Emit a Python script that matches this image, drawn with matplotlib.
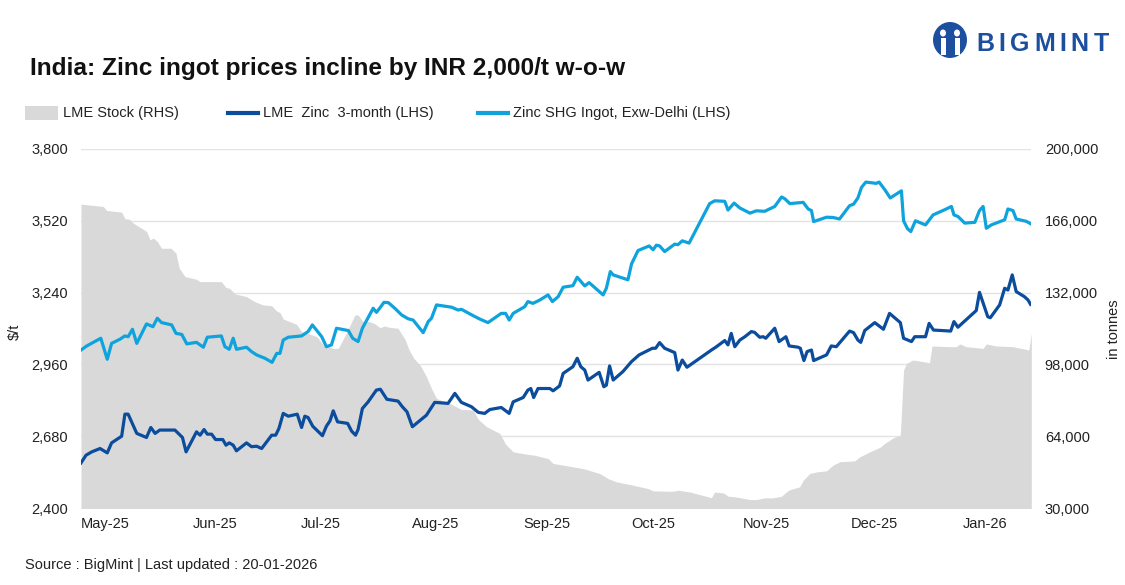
import numpy as np
import pandas as pd
import matplotlib
matplotlib.use("Agg")
import matplotlib.pyplot as plt
from matplotlib.patches import Rectangle, Ellipse
from matplotlib.lines import Line2D

plt.rcParams['font.family'] = ['Liberation Sans', 'DejaVu Sans']

START = "2025-05-01"
END = "2026-01-20"

# ---- Data (day offsets from 1 May 2025) ----
shg_days = [0, 1.6, 5.5, 7.3, 8.5, 10.8, 12.2, 13.1, 14.3, 15.5, 18.2, 20, 21.2, 22.4, 25.2, 26.4, 28, 29.4,
            32.1, 34, 35.1, 39, 40, 41.2, 42.3, 43.2, 46, 47.4, 48.8, 51.1, 53.1, 54.4, 55.3, 56.2, 57.6,
            61.3, 63.1, 64.3, 66.9, 68.2, 69.6, 71, 74.3, 75.5, 77, 78.2, 81.2, 82.1, 83, 84.2, 85.4, 87.2,
            89.1, 90.9, 92.3, 95.1, 96.5, 97.4, 98.8, 103, 104.8, 105.7, 109, 110.8, 113.1, 116.8, 118,
            119, 120.1, 123.3, 124.2, 125.6, 127.5, 129.8, 131, 132.6, 134, 136.7, 137.9, 140, 141.2,
            145.1, 146, 147.1, 147.9, 152, 153, 154.8, 157.9, 159, 159.9, 160.8, 162.2, 165, 165.9, 167.1,
            169, 174.7, 176.1, 178.9, 179.8, 181.5, 183.1, 185.9, 187.7, 190, 192.8, 194.7, 195.6, 197,
            200.7, 202.1, 203, 203.6, 207.2, 209, 210.8, 213.6, 214.7, 215.9, 216.9, 218.1, 221, 221.8,
            223.4, 224.9, 228, 228.6, 229.7, 230.6, 231.9, 234.7, 236.8, 240, 241.9, 242.6, 243.7, 245.6,
            248.4, 249.7, 250.7, 251.6, 253, 256.7, 257.6, 259, 259.9, 262.7, 264.1]
shg_price = [3016, 3032, 3062, 2980, 3042, 3058, 3071, 3068, 3097, 3042, 3118, 3107, 3140, 3123, 3114, 3081,
             3077, 3040, 3046, 3027, 3066, 3071, 3029, 3019, 3062, 3019, 3027, 3010, 2997, 2984, 2968, 3003,
             3003, 3055, 3066, 3071, 3088, 3114, 3068, 3029, 3036, 3101, 3092, 3062, 3049, 3101, 3179, 3163,
             3179, 3202, 3201, 3179, 3153, 3138, 3133, 3084, 3127, 3140, 3192, 3183, 3172, 3175, 3150, 3137,
             3123, 3159, 3159, 3133, 3159, 3185, 3205, 3198, 3211, 3231, 3205, 3224, 3261, 3267, 3300, 3266,
             3279, 3231, 3257, 3322, 3309, 3290, 3352, 3404, 3422, 3407, 3425, 3422, 3400, 3429, 3427, 3442,
             3433, 3587, 3598, 3596, 3562, 3589, 3570, 3550, 3559, 3557, 3576, 3613, 3606, 3587, 3592, 3566,
             3560, 3517, 3534, 3533, 3527, 3579, 3585, 3609, 3650, 3671, 3666, 3671, 3641, 3609, 3637, 3520,
             3489, 3478, 3520, 3504, 3543, 3563, 3576, 3543, 3537, 3511, 3514, 3560, 3576, 3491, 3504, 3524,
             3566, 3560, 3527, 3518, 3507]

lme_days = [0, 1.4, 3, 5.3, 7.3, 8.5, 11.3, 12.2, 13.1, 15.5, 18.2, 19.4, 20.6, 21.9, 26.1, 28.2, 29.2,
            32.1, 33.1, 34.2, 35.1, 36.3, 37.4, 39.4, 40.3, 41.2, 42.3, 43.2, 46, 47.4, 48.8, 50.2, 53,
            54.1, 55, 56.2, 57.6, 60.1, 61.3, 62.2, 63.1, 64.4, 67.1, 68.2, 69.2, 70.1, 71.3, 74.1, 75.2,
            76.3, 77, 78.2, 79.8, 82.1, 83.2, 85, 88.1, 89.3, 90.6, 92.1, 96, 98.3, 102, 103.9, 105.7,
            108.5, 110.4, 112.2, 113.6, 116.8, 119, 120.1, 122.9, 124.2, 125, 125.8, 127, 130.3, 131.2,
            133, 134, 136.7, 137.9, 138.9, 140, 140.9, 144, 145.3, 146, 146.9, 147.9, 150.6, 153, 155.1,
            158.8, 159.7, 160.8, 162.2, 165, 165.9, 167.1, 168.4, 175.2, 176.4, 178.9, 179.8, 180.7, 181.7,
            183.1, 184.5, 186.3, 187.2, 188.6, 189.6, 190.3, 192.8, 194, 195.9, 196.8, 199.3, 199.9, 200.9,
            201.8, 203, 203.6, 207.2, 208.5, 209.9, 213.6, 214.7, 215.9, 216.7, 217.8, 220.6, 223, 224.7,
            227.7, 228.6, 230.8, 231.7, 234.7, 235.7, 236.9, 241.7, 242.6, 243.7, 248.8, 249.7, 252, 252.7,
            255.3, 256.7, 257.6, 258.8, 259.9, 262.2, 263.2, 263.9]
lme_price = [2576, 2606, 2619, 2632, 2615, 2654, 2680, 2766, 2766, 2691, 2675, 2714, 2691, 2704, 2704, 2675,
             2619, 2697, 2684, 2706, 2688, 2688, 2667, 2667, 2645, 2654, 2645, 2623, 2654, 2639, 2641, 2632,
             2684, 2684, 2710, 2769, 2758, 2766, 2714, 2758, 2753, 2719, 2682, 2719, 2740, 2779, 2736, 2730,
             2700, 2684, 2706, 2788, 2814, 2860, 2863, 2824, 2817, 2795, 2775, 2717, 2762, 2812, 2808, 2847,
             2812, 2795, 2773, 2769, 2784, 2792, 2769, 2814, 2831, 2860, 2866, 2831, 2866, 2866, 2857, 2876,
             2925, 2951, 2984, 2951, 2938, 2899, 2929, 2873, 2879, 2954, 2899, 2932, 2971, 2997, 3023, 3023,
             3045, 3023, 3006, 2938, 2977, 2949, 3016, 3027, 3053, 3036, 3081, 3029, 3055, 3068, 3088, 3085,
             3066, 3068, 3062, 3101, 3049, 3068, 3032, 3027, 3023, 2975, 3010, 3016, 2975, 2997, 3032, 3029,
             3090, 3084, 3055, 3046, 3092, 3123, 3097, 3159, 3123, 3062, 3049, 3068, 3068, 3120, 3094, 3090,
             3127, 3105, 3170, 3241, 3146, 3142, 3192, 3257, 3250, 3309, 3244, 3224, 3211, 3194]

stock_days = [0, 6.2, 7.1, 11.3, 12.2, 13.4, 14.5, 18.2, 19.2, 20.1, 21.2, 22.4, 25, 26.4, 27.3, 28.9, 32.1,
              33.1, 39, 40.3, 41.2, 42.8, 46, 48.3, 50.5, 53, 54.2, 55.3, 56.2, 59.9, 61.3, 62.9, 65.6,
              67.3, 70.1, 71.5, 73.8, 76.1, 77, 78.4, 80.1, 81.7, 83.1, 84.4, 85.6, 88.1, 90, 91.2, 92.5,
              94.3, 96, 97.4, 98.8, 102.5, 105.7, 109, 110.4, 112.7, 116.4, 118, 120.1, 123.8, 126.1, 129.8,
              131.2, 136.7, 139.5, 144.2, 146.5, 148.8, 153.4, 157.6, 159, 164.5, 165.9, 169.2, 175.2, 176.1,
              178.6, 179.8, 182.1, 185.9, 187.7, 190, 192.3, 194.7, 196, 197, 199.7, 200.7, 202.5, 204.4,
              207.2, 209, 210.9, 215, 216.4, 219.2, 222, 223.4, 225.7, 227.7, 228.6, 229.4, 231.2, 235.8,
              236.5, 241.4, 243.3, 244.2, 246, 250.7, 251.6, 254.4, 259, 262.7, 263.4, 264.1]
stock_t = [173900, 172800, 170900, 170100, 167000, 166800, 164900, 161000, 157000, 157800, 156200, 153000,
           153000, 150700, 143600, 139600, 138300, 137200, 137200, 134400, 134100, 131400, 130100, 127700,
           126200, 125800, 123500, 122500, 119500, 117000, 113500, 112700, 111100, 107200, 105600, 105600,
           113000, 121400, 121400, 118300, 118300, 117200, 115400, 116200, 115600, 115100, 110000, 104800,
           100900, 97500, 92200, 86600, 81900, 79500, 76700, 76400, 72000, 68500, 65300, 60200, 56600,
           55500, 55000, 53400, 51100, 49500, 48700, 46300, 43900, 42400, 40800, 39200, 38100, 37900, 38400,
           37600, 34900, 37600, 37100, 35600, 35200, 34000, 34000, 34800, 34800, 35600, 37600, 38700, 40000,
           43100, 46300, 47100, 47600, 50300, 51900, 52300, 54200, 56600, 58700, 60600, 63200, 64500, 95300,
           98500, 100100, 98800, 106700, 106400, 106400, 107700, 106400, 105600, 107700, 106700, 106400,
           105100, 104800, 112700]

left_ticks = [2400, 2680, 2960, 3240, 3520, 3800]
right_ticks = [30000, 64000, 98000, 132000, 166000, 200000]
month_labels = ["May-25", "Jun-25", "Jul-25", "Aug-25", "Sep-25", "Oct-25", "Nov-25", "Dec-25", "Jan-26"]

C_DARK = "#0b4c9c"
C_LIGHT = "#0fa3dd"
C_GRAY = "#d9d9d9"
C_TEXT = "#222222"

t0 = pd.Timestamp(START)
def to_dates(days):
    return t0 + pd.to_timedelta(np.asarray(days, dtype=float), unit="D")

fig = plt.figure(figsize=(11.25, 5.85), dpi=100)
ax2 = fig.add_axes([0.072, 0.1316, 0.8444, 0.6137])   # stock (RHS) behind
ax = ax2.twinx()
ax2.yaxis.tick_right()

ax2.fill_between(to_dates(stock_days), 0, stock_t, color=C_GRAY, lw=0, zorder=1)
ax2.set_ylim(right_ticks[0], right_ticks[-1])
ax2.set_yticks(right_ticks)
ax2.set_yticklabels([f"{v:,}" for v in right_ticks])

ax.plot(to_dates(lme_days), lme_price, color=C_DARK, lw=2.3, zorder=3, solid_joinstyle="round")
ax.plot(to_dates(shg_days), shg_price, color=C_LIGHT, lw=2.3, zorder=3, solid_joinstyle="round")
ax.set_ylim(left_ticks[0], left_ticks[-1])
ax.set_yticks(left_ticks)
ax.set_yticklabels([f"{v:,}" for v in left_ticks])
ax.yaxis.tick_left()

# horizontal grid lines (drawn on background axis)
for v in left_ticks:
    ax2.axhline(right_ticks[0] + (v - left_ticks[0]) / (left_ticks[-1] - left_ticks[0]) * (right_ticks[-1] - right_ticks[0]),
                color="#e3e3e3", lw=1.0, zorder=0.5)

ax2.set_xlim(pd.Timestamp(START), pd.Timestamp(END))
months = pd.date_range("2025-05-01", "2026-01-01", freq="MS")
ax2.set_xticks(months)
ax2.set_xticklabels(month_labels, ha="left")
ax2.tick_params(axis="x", length=0, pad=6.5, labelsize=10.5, colors=C_TEXT)
ax2.tick_params(axis="y", length=0, pad=10, labelsize=10.5, colors=C_TEXT)
ax.tick_params(axis="y", length=0, pad=9.5, labelsize=10.5, colors=C_TEXT)

for a in (ax, ax2):
    for s in a.spines.values():
        s.set_visible(False)

fig.text(15 / 1125, 1 - 332 / 585, "$/t", rotation=90, ha="center", va="center", fontsize=10.5, color=C_TEXT)
fig.text(1114 / 1125, 1 - 329 / 585, "in tonnes", rotation=90, ha="center", va="center", fontsize=10.5,
         color=C_TEXT)

# title
fig.text(0.0265, 1 - 68 / 585, "India: Zinc ingot prices incline by INR 2,000/t w-o-w", fontsize=17.6,
         fontweight="bold", ha="left", va="center", color="#111111")

# legend (manual)
ly = 1 - 113 / 585
fig.patches.append(Rectangle((25 / 1125, ly - 0.012), 33 / 1125, 0.024, transform=fig.transFigure,
                             facecolor=C_GRAY, edgecolor="none"))
fig.text(63 / 1125, ly, "LME Stock (RHS)", fontsize=10.5, va="center", color=C_TEXT)
fig.lines.append(Line2D([228 / 1125, 258 / 1125], [ly, ly], transform=fig.transFigure, color=C_DARK, lw=3))
fig.text(263 / 1125, ly, "LME  Zinc  3-month (LHS)", fontsize=10.5, va="center", color=C_TEXT)
fig.lines.append(Line2D([478 / 1125, 508 / 1125], [ly, ly], transform=fig.transFigure, color=C_LIGHT, lw=3))
fig.text(513 / 1125, ly, "Zinc SHG Ingot, Exw-Delhi (LHS)", fontsize=10.5, va="center", color=C_TEXT)

# source
fig.text(25 / 1125, 1 - 565 / 585, "Source : BigMint | Last updated : 20-01-2026", fontsize=10.5,
         va="center", color=C_TEXT)

# logo
LOGO = "#1d4f9f"
fig.patches.append(Ellipse((950 / 1125, 1 - 40 / 585), 34 / 1125, 36 / 585, transform=fig.transFigure,
                           facecolor=LOGO, edgecolor="none"))
for dx in (-7, 7):
    fig.patches.append(Ellipse(((950 + dx) / 1125, 1 - 33 / 585), 6 / 1125, 7 / 585,
                               transform=fig.transFigure, facecolor="white", edgecolor="none"))
    fig.patches.append(Rectangle(((950 + dx - 2.5) / 1125, 1 - 55 / 585), 5 / 1125, 17 / 585,
                                 transform=fig.transFigure, facecolor="white", edgecolor="none"))

renderer = fig.canvas.get_renderer()
xpos = 976.0
for ch in "BIGMINT":
    t = fig.text(xpos / 1125, 1 - 44 / 585, ch, fontsize=18, fontweight="bold", color=LOGO,
                 ha="left", va="center")
    w = t.get_window_extent(renderer).width
    xpos += w + 4.6

fig.savefig("out.png", dpi=100)
